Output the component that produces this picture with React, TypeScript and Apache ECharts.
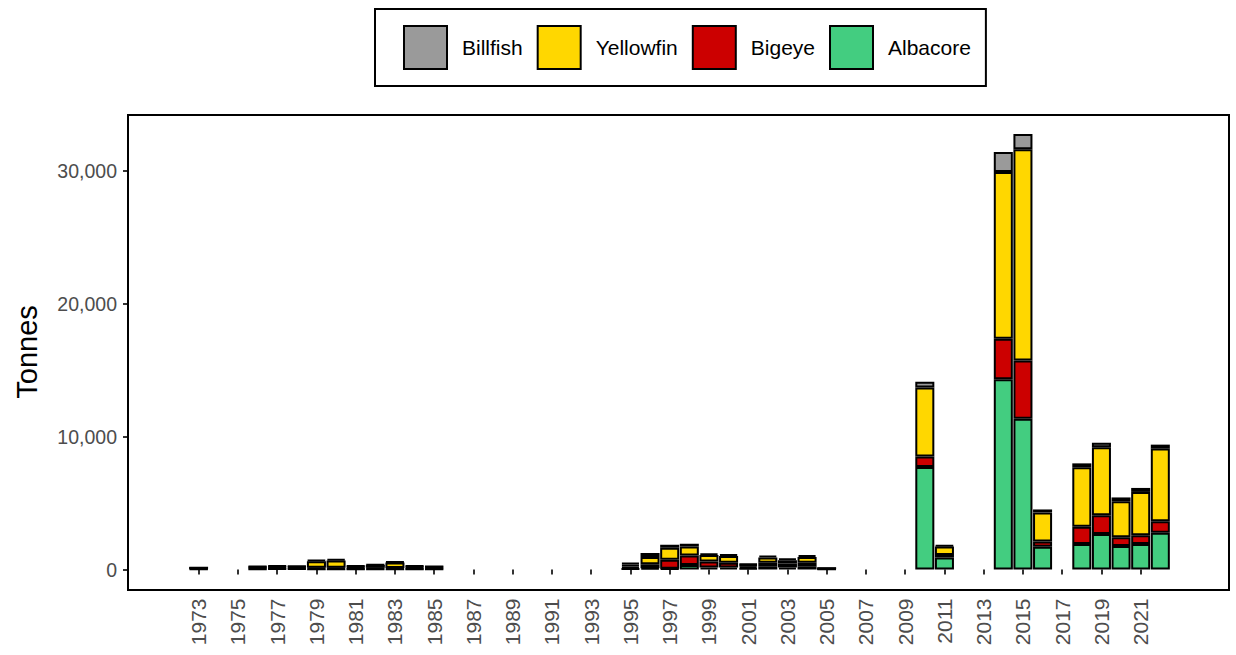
import React, { useEffect, useRef } from "react";
import * as echarts from "echarts";

const years = [
  1973, 1976, 1977, 1978, 1979, 1980, 1981, 1982, 1983, 1984, 1985,
  1995, 1996, 1997, 1998, 1999, 2000, 2001, 2002, 2003, 2004, 2005,
  2010, 2011, 2014, 2015, 2016, 2018, 2019, 2020, 2021, 2022,
];
const albacore = [
  50, 50, 60, 60, 40, 40, 50, 50, 40, 50, 50,
  80, 100, 60, 340, 150, 150, 100, 200, 150, 200, 30,
  7720, 900, 14330, 11340, 1720, 1920, 2675, 1770, 1920, 2775,
];
const bigeye = [
  50, 80, 90, 80, 100, 100, 80, 80, 80, 80, 70,
  150, 300, 680, 720, 450, 350, 150, 300, 300, 300, 30,
  790, 200, 3040, 4395, 390, 1305, 1410, 655, 655, 855,
];
const yellowfin = [
  30, 60, 80, 80, 480, 540, 100, 200, 400, 100, 80,
  150, 550, 900, 680, 490, 520, 100, 400, 250, 450, 30,
  5200, 640, 12550, 15900, 2190, 4475, 5125, 2715, 3265, 5470,
];
const billfish = [
  20, 60, 70, 60, 100, 120, 70, 60, 80, 70, 50,
  150, 300, 230, 200, 130, 130, 100, 150, 150, 150, 10,
  415, 100, 1510, 1145, 220, 290, 340, 285, 300, 300,
];
const yTicks = [0, 10000, 20000, 30000];
const firstYear = 1970;
const lastYear = 2025;

const species = [
  { name: "Albacore", data: albacore, color: "#43CD80" },
  { name: "Bigeye", data: bigeye, color: "#CC0000" },
  { name: "Yellowfin", data: yellowfin, color: "#FFD700" },
  { name: "Billfish", data: billfish, color: "#9A9A9A" },
];

const FONT = "Liberation Sans, Arial, sans-serif";

export default function App() {
  const ref = useRef<HTMLDivElement>(null);
  useEffect(() => {
    if (!ref.current) return;
    const chart = echarts.init(ref.current, undefined, { renderer: "svg" });
    const cats: string[] = [];
    for (let y = firstYear; y <= lastYear; y++) cats.push(String(y));
    const showYear = (_i: number, v: string) => {
      const n = Number(v);
      return n % 2 === 1 && n >= 1973 && n <= 2021;
    };
    const series = species.map((s) => {
      const full = cats.map((c) => {
        const idx = years.indexOf(Number(c));
        return idx >= 0 ? s.data[idx] : null;
      });
      return {
        name: s.name,
        type: "bar" as const,
        stack: "total",
        data: full,
        clip: false,
        barCategoryGap: "3%",
        itemStyle: { color: s.color, borderColor: "#000", borderWidth: 2 },
        emphasis: { disabled: true },
      };
    });
    chart.setOption({
      animation: false,
      textStyle: { fontFamily: FONT },
      grid: { left: 130, right: 7, top: 171, bottom: 85.5, containLabel: false },
      legend: {
        data: ["Billfish", "Yellowfin", "Bigeye", "Albacore"],
        left: 375,
        top: 9,
        orient: "horizontal",
        padding: [16, 15, 16, 28],
        itemGap: 14,
        itemWidth: 43,
        itemHeight: 43,
        icon: "rect",
        borderColor: "#000",
        borderWidth: 2,
        itemStyle: { borderColor: "#000", borderWidth: 2 },
        textStyle: { fontSize: 21, color: "#000", fontFamily: FONT, padding: [0, 0, 0, 10] },
        selectedMode: false,
      },
      xAxis: {
        type: "category",
        data: cats,
        offset: 21,
        axisLine: { show: false },
        axisTick: { show: true, interval: showYear, alignWithLabel: true, length: 5, lineStyle: { color: "#333", width: 2 } },
        axisLabel: { interval: showYear, rotate: 90, fontSize: 21, color: "#4D4D4D", margin: 8, fontFamily: FONT },
        splitLine: { show: false },
      },
      yAxis: {
        type: "value",
        min: yTicks[0],
        max: yTicks[yTicks.length - 1],
        interval: 10000,
        offset: 2,
        axisLine: { show: false },
        axisTick: { show: true, length: 5, lineStyle: { color: "#333", width: 2 } },
        axisLabel: {
          fontSize: 19.5,
          color: "#4D4D4D",
          margin: 11,
          fontFamily: FONT,
          formatter: (v: number) => v.toLocaleString("en-US"),
        },
        splitLine: { show: false },
      },
      graphic: [
        {
          type: "rect",
          shape: { x: 128, y: 115, width: 1101, height: 475 },
          style: { fill: "none", stroke: "#000", lineWidth: 2 },
          silent: true,
          z: 100,
        },
        {
          type: "text",
          x: 27,
          y: 352,
          rotation: Math.PI / 2,
          style: {
            text: "Tonnes",
            fontSize: 29,
            fontFamily: FONT,
            fill: "#000",
            align: "center",
            verticalAlign: "middle",
          },
        },
      ],
      series,
    });
    return () => chart.dispose();
  }, []);
  return (
    <div
      ref={ref}
      style={{ position: "fixed", left: 0, top: 0, width: 1236, height: 655, background: "#fff" }}
    />
  );
}
